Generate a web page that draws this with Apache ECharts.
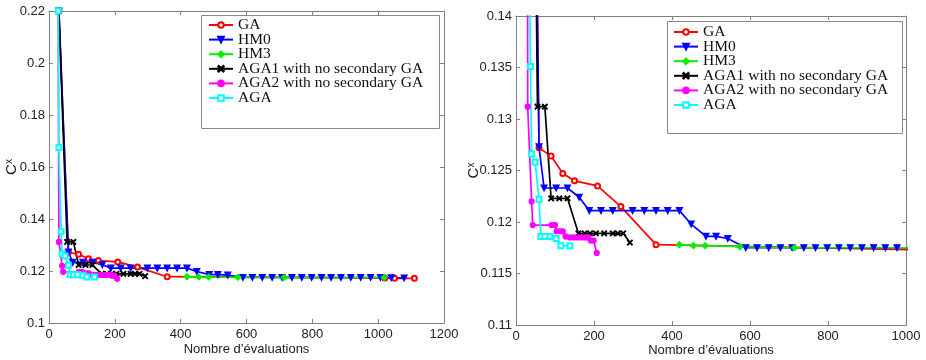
<!DOCTYPE html>
<html><head><meta charset="utf-8">
<script src="https://cdn.jsdelivr.net/npm/echarts@6/dist/echarts.min.js"></script>
<style>html,body{margin:0;padding:0;background:#fff}#c{width:926px;height:360px}</style>
</head><body><div id="c"></div>
<script>
// ---- data ----
const seriesNames = ['GA', 'HM0', 'HM3', 'AGA1 with no secondary GA', 'AGA2 with no secondary GA', 'AGA'];
const GA = [[30,0.22],[59,0.1272],[90,0.1264],[120,0.1247],[150,0.1240],[209,0.1235],[269,0.1215],[359,0.1178],[1020,0.1173],[1050,0.1172],[1110,0.1172]];
const HM0 = [[30,0.22],[59,0.1273],[72,0.1233],[103,0.1233],[132,0.1233],[162,0.1224],[188,0.1211],[218,0.1211],[248,0.1211],[299,0.1211],[329,0.1211],[359,0.1211],[389,0.1211],[419,0.1211],[449,0.1198],[487,0.1186],[513,0.1186],[543,0.1184],[589,0.1175],[618,0.1175],[648,0.1175],[678,0.1175],[708,0.1175],[738,0.1175],[768,0.1175],[798,0.1175],[828,0.1175],[857,0.1175],[887,0.1175],[917,0.1175],[947,0.1175],[977,0.1175],[1007,0.1175],[1040,0.1174],[1079,0.1173]];
const HM3 = [[419,0.1178],[455,0.1177],[485,0.1177],[574,0.1176],[714,0.1175],[1018,0.1175]];
const AGA1 = [[30,0.22],[55,0.1312],[74,0.1312],[90,0.1223],[111,0.1223],[132,0.1223],[160,0.1189],[176,0.1189],[190,0.1189],[205,0.1189],[226,0.1189],[248,0.1189],[261,0.1189],[275,0.1189],[292,0.1180]];
const AGA2 = [[28,0.22],[30,0.1312],[40,0.1220],[43,0.1197],[91,0.1197],[100,0.1197],[104,0.1191],[113,0.1191],[120,0.1191],[127,0.1186],[138,0.1185],[148,0.1185],[158,0.1185],[168,0.1185],[178,0.1185],[185,0.1185],[192,0.1182],[199,0.1182],[207,0.1170]];
const AGA = [[28,0.22],[30,0.1675],[37,0.1351],[40,0.1266],[49,0.1258],[59,0.1222],[64,0.1186],[74,0.1186],[87,0.1186],[103,0.1184],[115,0.1177],[138,0.1177]];
const seriesData = [GA, HM0, HM3, AGA1, AGA2, AGA];
const xTitle = "Nombre d’évaluations";

// ---- styles ----
const xPath = 'path://M0,1L1,0L5,4L9,0L10,1L6,5L10,9L9,10L5,6L1,10L0,9L4,5Z';
const styles = [
  {color:'#ff0000', symbol:'emptyCircle', size:5, rotate:0},
  {color:'#0000ff', symbol:'triangle', size:6, rotate:180},
  {color:'#00ee00', symbol:'diamond', size:6, rotate:0},
  {color:'#000000', symbol:xPath, size:5, rotate:0},
  {color:'#ff00ff', symbol:'circle', size:5, rotate:0},
  {color:'#00ffff', symbol:'emptyRect', size:5, rotate:0}
];
const AX = '#808080';
const FONT = 'Liberation Sans, Arial, sans-serif';
const labelStyle = {color:'#222', fontSize:13, fontFamily:FONT};

function xAxes(g, max, nameGap){
  const base = {gridIndex:g, type:'value', min:0, max:max, interval:200,
    axisLine:{show:true, onZero:false, lineStyle:{color:AX, width:1}},
    axisTick:{show:true, inside:true, length:4, lineStyle:{color:AX}},
    splitLine:{show:false}};
  return [
    Object.assign({}, base, {position:'bottom',
      axisLabel:Object.assign({margin:5, formatter: v => String(v)}, labelStyle),
      name:xTitle, nameLocation:'middle', nameGap:nameGap, nameMoveOverlap:false,
      nameTextStyle:{color:'#222', fontSize:13, fontFamily:FONT}}),
    Object.assign({}, base, {position:'top', axisLabel:{show:false}})
  ];
}
function yAxes(g, min, max, interval, nameGap){
  const base = {gridIndex:g, type:'value', min:min, max:max, interval:interval,
    axisLine:{show:true, onZero:false, lineStyle:{color:AX, width:1}},
    axisTick:{show:true, inside:true, length:4, lineStyle:{color:AX}},
    splitLine:{show:false}};
  return [
    Object.assign({}, base, {position:'left', axisLabel:Object.assign({margin:4}, labelStyle),
      name:'C{s|x}', nameLocation:'middle', nameGap:nameGap, nameRotate:90, nameMoveOverlap:false,
      nameTextStyle:{color:'#222', fontSize:15, fontFamily:FONT,
        rich:{s:{fontSize:10, verticalAlign:'bottom', padding:[0,0,6,0], fontFamily:FONT, color:'#222'}}}}),
    Object.assign({}, base, {position:'right', axisLabel:{show:false}})
  ];
}

const series = [];
[0,1].forEach(g => {
  seriesData.forEach((d, i) => {
    const s = styles[i];
    series.push({
      name: seriesNames[i], type:'line', xAxisIndex: g*2, yAxisIndex: g*2,
      data: d, symbol: s.symbol, symbolSize: s.size, symbolRotate: s.rotate,
      showAllSymbol: true, clip: true, animation:false,
      lineStyle:{color:s.color, width:1.7},
      itemStyle:{color:s.color, borderColor:s.color, borderWidth:1.2}
    });
  });
});

function legend(left, top){
  return {orient:'vertical', left:left, top:top, padding:0, itemGap:-1.4,
    itemWidth:24, itemHeight:7, data:seriesNames, selectedMode:false,
    textStyle:{color:'#111', fontSize:15.5, fontFamily:'Liberation Serif, Times New Roman, serif', lineHeight:14}};
}

const option = {
  backgroundColor:'#fff',
  animation:false,
  grid:[
    {left:49, top:11, width:395, height:312, outerBoundsMode:'none', containLabel:false},
    {left:516, top:16, width:390, height:309, outerBoundsMode:'none', containLabel:false}
  ],
  xAxis: xAxes(0, 1200, 20).concat(xAxes(1, 1000, 19)),
  yAxis: yAxes(0, 0.1, 0.22, 0.02, 29).concat(yAxes(1, 0.11, 0.14, 0.005, 34)),
  legend:[legend(208, 17), legend(673, 24)],
  graphic:[
    {type:'rect', shape:{x:201.5, y:15.5, width:238, height:113}, style:{fill:'none', stroke:'#888', lineWidth:1}, z:-1},
    {type:'rect', shape:{x:667.5, y:21.5, width:235, height:112}, style:{fill:'none', stroke:'#888', lineWidth:1}, z:-1}
  ],
  series: series
};
const chart = echarts.init(document.getElementById('c'));
chart.setOption(option);
</script></body></html>
